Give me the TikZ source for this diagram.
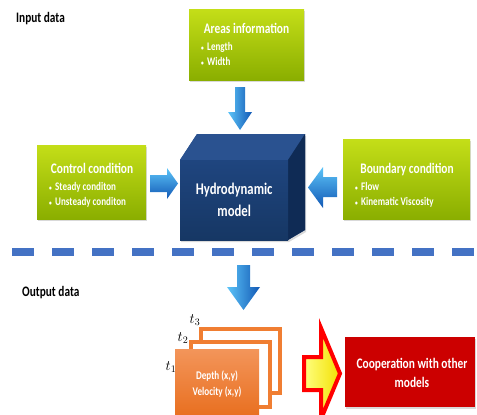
\documentclass[tikz,border=0pt]{standalone}
\usepackage{fontspec}
\setmainfont{Carlito}[FakeStretch=0.78]
\usetikzlibrary{shadows}
\definecolor{limeT}{HTML}{C4DE18}
\definecolor{limeB}{HTML}{8AAE00}
\definecolor{navyT}{HTML}{2A5290}
\definecolor{navyF}{HTML}{1F457F}
\definecolor{navyB}{HTML}{163764}
\definecolor{navyS}{HTML}{0F2B55}
\definecolor{arrL}{HTML}{5CC4F8}
\definecolor{arrD}{HTML}{1258B5}
\definecolor{dashblue}{HTML}{4472C4}
\definecolor{orT}{HTML}{F3955A}
\definecolor{orB}{HTML}{E86E1E}
\definecolor{orLine}{HTML}{F07E32}
\definecolor{coopred}{HTML}{CC0000}
\definecolor{yelL}{HTML}{FFFF80}
\definecolor{yelD}{HTML}{F2E000}
\newcommand{\dotb}{\makebox[6pt][l]{\fontsize{7}{7}\selectfont\textbullet}}
\begin{document}
\begin{tikzpicture}[x=1pt,y=-1pt,
  softshadow/.style={drop shadow={shadow xshift=1pt,shadow yshift=-2pt,opacity=0.3}},
  greenbox/.style={top color=limeT,bottom color=limeB,draw=none,inner sep=0pt,anchor=north west,softshadow},
  ttl/.style={text=white,font=\bfseries\fontsize{14.6}{16}\selectfont,inner sep=0pt},
  bul/.style={text=white,font=\bfseries\fontsize{11.6}{14}\selectfont,inner sep=0pt,anchor=base west},
  head/.style={text=black,font=\bfseries\fontsize{14.5}{16}\selectfont,inner sep=0pt,anchor=base west},
  frontface/.style={top color=navyF,bottom color=navyB,draw=none,inner sep=0pt,anchor=north west,
     text=white,font=\bfseries\fontsize{16.3}{22}\selectfont,align=center},
  blockdown/.style={left color=arrL,right color=arrD,draw=none},
  blockside/.style={top color=arrL,bottom color=arrD,draw=none},
  dashline/.style={draw=dashblue,line width=8pt,dash pattern=on 22pt off 18pt},
  oframe/.style={draw=orLine,line width=4pt,fill=white,inner sep=0pt,anchor=north west},
  ofront/.style={top color=orT,bottom color=orB,draw=none,inner sep=0pt,anchor=north west},
  otxt/.style={text=white,font=\bfseries\fontsize{11.7}{14}\selectfont,inner sep=0pt,anchor=base},
  tlab/.style={text=black,inner sep=0pt,font=\fontsize{14}{14}\selectfont},
  redbox/.style={fill=coopred,draw=none,inner sep=0pt,anchor=north west,softshadow}]
\useasboundingbox (0,0) rectangle (477,415);

% headings
\node[head] (inhead) at (16,23) {Input data};
\node[head] (outhead) at (22,296) {Output data};

% green boxes
\node[greenbox,minimum width=115pt,minimum height=71pt] (areas) at (189,9) {};
\node[ttl,anchor=base] (areasT) at (246.5,34) {Areas information};
\node[bul] (areasB1) at (201,50) {\dotb Length};
\node[bul] (areasB2) at (201,65) {\dotb Width};

\node[greenbox,minimum width=109pt,minimum height=74pt] (ctrl) at (37,145) {};
\node[ttl,anchor=base] (ctrlT) at (92,173) {Control condition};
\node[bul] (ctrlB1) at (49,190) {\dotb Steady conditon};
\node[bul] (ctrlB2) at (49,205) {\dotb Unsteady conditon};

\node[greenbox,minimum width=127pt,minimum height=80pt] (bnd) at (343,139) {};
\node[ttl,anchor=base] (bndT) at (407,173) {Boundary condition};
\node[bul] (bndB1) at (355,190) {\dotb Flow};
\node[bul] (bndB2) at (355,205) {\dotb Kinematic Viscosity};

% cube
\fill[navyT,softshadow] (180,160) -- (197,134) -- (305,134) -- (305,230) -- (288,240) -- (180,240) -- cycle;
\fill[navyT] (180,160) -- (197,134) -- (305,134) -- (288,160) -- cycle;
\fill[navyS] (288,160) -- (305,134) -- (305,230) -- (288,240) -- cycle;
\node[frontface,minimum width=108pt,minimum height=80pt] (cube) at (180,160) {Hydrodynamic\\model};

% blue block arrows
\shade[blockdown] (235,87) -- (245,87) -- (245,112) -- (252,112) -- (240,130) -- (228,112) -- (235,112) -- cycle;
\shade[blockside] (150,175) -- (167,175) -- (167,168) -- (178,183.5) -- (167,199) -- (167,192) -- (150,192) -- cycle;
\shade[blockside] (337,177) -- (323,177) -- (323,167) -- (308,187.5) -- (323,208) -- (323,197) -- (337,197) -- cycle;

% separator
\draw[dashline] (12,252) -- (475,252);

\shade[blockdown] (237,265) -- (250,265) -- (250,287) -- (260,287) -- (243.5,310) -- (227,287) -- (237,287) -- cycle;

% output stack
\node[oframe,minimum width=79pt,minimum height=64pt] (f3) at (199,327) {};
\node[oframe,minimum width=79pt,minimum height=65pt] (f2) at (189,340) {};
\node[ofront,minimum width=84pt,minimum height=69pt] (f1) at (175,349) {};
\node[otxt] (dep) at (217,379.5) {Depth (x,y)};
\node[otxt] (vel) at (217,395) {Velocity (x,y)};
\node[tlab] (t3) at (195,320) {$t_3$};
\node[tlab] (t2) at (183,338) {$t_2$};
\node[tlab] (t1) at (171,367) {$t_1$};

% red/yellow arrow
\draw[left color=yelL,right color=yelD,draw=red,line width=4pt,line join=miter]
  (304,357) -- (321,357) -- (321,328) -- (340,373.5) -- (321,419) -- (321,390) -- (304,390) -- cycle;

% cooperation box
\node[redbox,minimum width=130pt,minimum height=70pt] (coop) at (345,337) {};
\node[ttl,anchor=base] (coopT1) at (412,368) {Cooperation with other};
\node[ttl,anchor=base] (coopT2) at (412,387.5) {models};
\end{tikzpicture}
\end{document}
